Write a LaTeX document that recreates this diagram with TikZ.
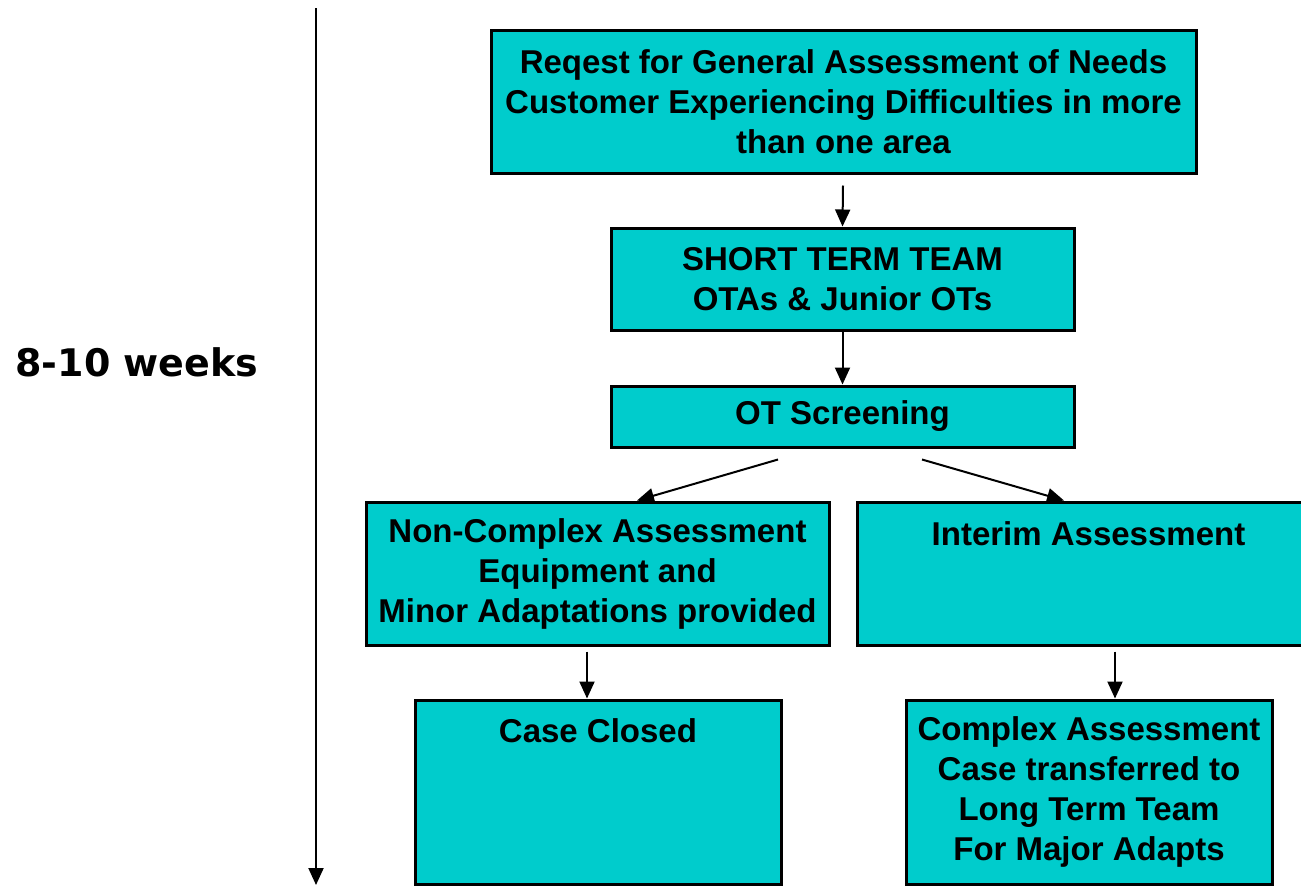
\documentclass[tikz,border=0pt]{standalone}
\usepackage{fontspec}
\setmainfont{Liberation Sans}
\newfontfamily\weeksfont{DejaVu Sans}
\usetikzlibrary{arrows.meta,calc,positioning}
\definecolor{boxcyan}{RGB}{0,204,204}

\begin{document}
\begin{tikzpicture}[x=0.5pt, y=-0.5pt,
    box/.style={rectangle, draw=black, line width=1.5pt, fill=boxcyan, inner sep=0pt, minimum width=231.5pt},
    boxtext/.style={align=center, inner sep=0pt, font=\bfseries\fontsize{16.5}{20}\selectfont},
    arr/.style={line width=1pt, -{Triangle[length=8.5pt, width=7.5pt]}}]
    \clip (0,0) rectangle (1301,885);
    % time line
    \coordinate (tltop) at (316,8);
    \coordinate (tlbot) at (316,885);
    \draw[arr] (tltop) -- (tlbot);
    \node[anchor=west, inner sep=0pt, font=\weeksfont\bfseries\fontsize{19}{22}\selectfont] (weeks) at (15,362) {8-10 weeks};
    % boxes
    \node[box, boxtext, minimum width=352.5pt, minimum height=71.5pt] (request) at (843.5,101.5)
        {Reqest for General Assessment of Needs\\Customer Experiencing Difficulties in more\\than one area};
    \node[box, boxtext, minimum height=51pt] (shortterm) at (842.5,279)
        {SHORT TERM TEAM\\OTAs \& Junior OTs};
    \node[box, boxtext, minimum height=30.5pt] (screening) at (842.5,416.5) {OT Screening};
    \node[box, boxtext, minimum height=71.5pt] (noncomplex) at (597.5,573.5)
        {Non-Complex Assessment\\Equipment and\\Minor Adaptations provided};
    \node[box, minimum height=71.5pt] (interim) at (1088.5,573.5) {};
    \node[boxtext] (interimtext) at ($(interim.north)+(0,33)$) {Interim Assessment};
    \node[box, minimum width=183pt, minimum height=92pt] (closed) at (598,792) {};
    \node[boxtext] (closedtext) at ($(closed.north)+(0,32)$) {Case Closed};
    \node[box, boxtext, minimum width=183pt, minimum height=92pt] (complex) at (1089,792)
        {Complex Assessment\\Case transferred to\\Long Term Team\\For Major Adapts};
    % arrows
    \draw[arr] ($(request.south)+(-0.5,11)$) -- (shortterm.north);
    \draw[arr] (shortterm) -- (screening);
    \draw[arr] ($(screening.south)+(-64.5,11)$) -- ($(noncomplex.north)+(39.5,0)$);
    \draw[arr] ($(screening.south)+(79.5,11)$) -- ($(interim.north)+(-24.5,0)$);
    \draw[arr] ($(noncomplex.south)+(-10.5,5)$) -- ($(closed.north)+(-11,0)$);
    \draw[arr] ($(interim.south)+(26.5,5)$) -- ($(complex.north)+(26,0)$);
\end{tikzpicture}
\end{document}
